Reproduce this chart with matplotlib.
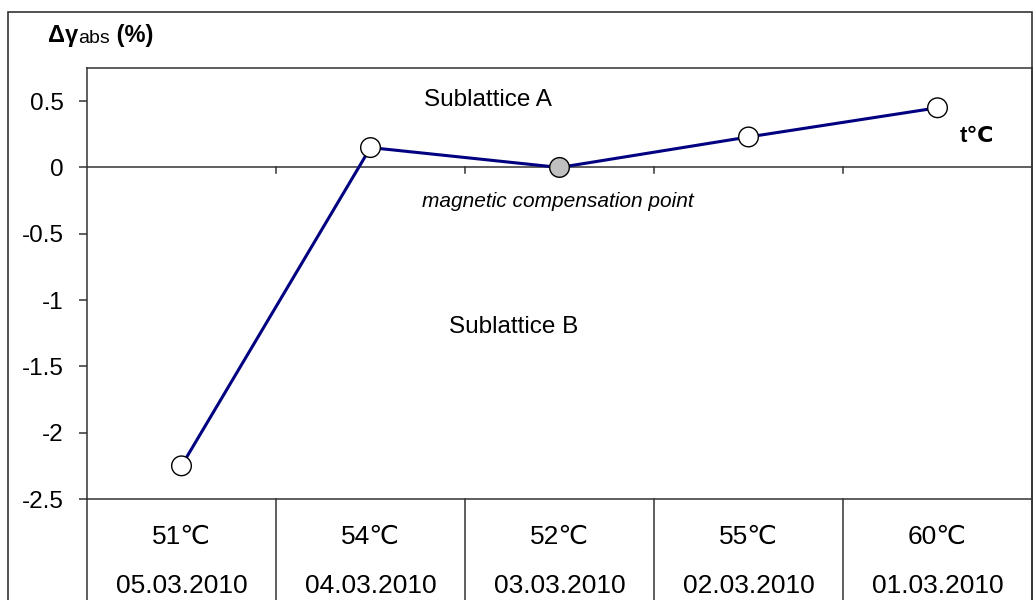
import matplotlib
matplotlib.use("Agg")
import matplotlib.pyplot as plt
from matplotlib.lines import Line2D
from matplotlib.patches import Rectangle
import matplotlib.transforms as mtransforms

plt.rcParams['font.family'] = ['Liberation Sans', 'DejaVu Sans']

temps = ["51℃", "54℃", "52℃", "55℃", "60℃"]
dates = ["05.03.2010", "04.03.2010", "03.03.2010", "02.03.2010", "01.03.2010"]
values = [-2.25, 0.15, 0.0, 0.23, 0.45]
face_colors = ["white", "white", "#c0c0c0", "white", "white"]
yticks = [-2.5, -2, -1.5, -1, -0.5, 0, 0.5]
ytick_labels = ["-2.5", "-2", "-1.5", "-1", "-0.5", "0", "0.5"]

W, H = 1036, 600
fig = plt.figure(figsize=(W / 100, H / 100), dpi=100)
frame_col = "#333333"

# figure border
fig.patches.append(Rectangle((8 / W, -0.05), (1032 - 8) / W, 1.05 - 12 / H,
                             transform=fig.transFigure, fill=False,
                             edgecolor=frame_col, linewidth=1.2))

left, right, top, bottom = 87, 1032, 68, 499
ax = fig.add_axes([left / W, 1 - bottom / H, (right - left) / W, (bottom - top) / H])
n = len(temps)
xs = [i + 0.5 for i in range(n)]
ax.set_xlim(0, n)
ax.set_ylim(-2.5, 0.75)

for s in ax.spines.values():
    s.set_color(frame_col)
    s.set_linewidth(1.1)

ax.set_xticks([])
ax.set_yticks(yticks)
ax.set_yticklabels(ytick_labels)
ax.tick_params(axis='y', direction='out', length=6, width=1.1, color=frame_col,
               labelsize=17.5, pad=11)

# zero line with small ticks
ax.axhline(0, color=frame_col, linewidth=1.1, zorder=1)
blend = mtransforms.blended_transform_factory(ax.transData, ax.transAxes)
for b in range(1, n):
    ax.plot([b, b], [0, -0.045], color=frame_col, linewidth=1.1, zorder=1)

# data line
ax.plot(xs, values, color="#000080", linewidth=2.2, zorder=3)
ax.scatter(xs, values, s=200, c=face_colors, edgecolors="black", linewidths=1.0, zorder=4)

# category table below
for b in range(0, n + 1):
    ax.add_line(Line2D([b, b], [0, -0.3], transform=blend, color=frame_col,
                       linewidth=1.1, clip_on=False))
for i in range(n):
    ax.text(xs[i], -(537 - bottom) / (bottom - top), temps[i], transform=blend,
            ha='center', va='center', fontsize=19, clip_on=False)
    ax.text(xs[i], -(586 - bottom) / (bottom - top), dates[i], transform=blend,
            ha='center', va='center', fontsize=19, clip_on=False)

# annotations
ax.text(2.12, 0.51, "Sublattice A", ha='center', va='center', fontsize=17.5)
ax.text(2.255, -1.2, "Sublattice B", ha='center', va='center', fontsize=17.5)
ax.text(2.49, -0.26, "magnetic compensation point", ha='center', va='center',
        fontsize=15, style='italic')
ax.text(4.71, 0.23, "t℃", ha='center', va='center', fontsize=16, fontweight='bold')

# y-axis title
t1 = fig.text(48 / W, 1 - 42 / H, "Δγ", fontsize=17, fontweight='bold',
              ha='left', va='baseline')
t2 = ax.annotate("abs", xy=(1, 0), xycoords=t1, ha='left', va='bottom',
                 fontsize=14, annotation_clip=False)
t3 = ax.annotate(" (%)", xy=(1, 0), xycoords=t2, ha='left', va='bottom',
                 fontsize=17, fontweight='bold', annotation_clip=False)

fig.savefig("out.png", dpi=100)
